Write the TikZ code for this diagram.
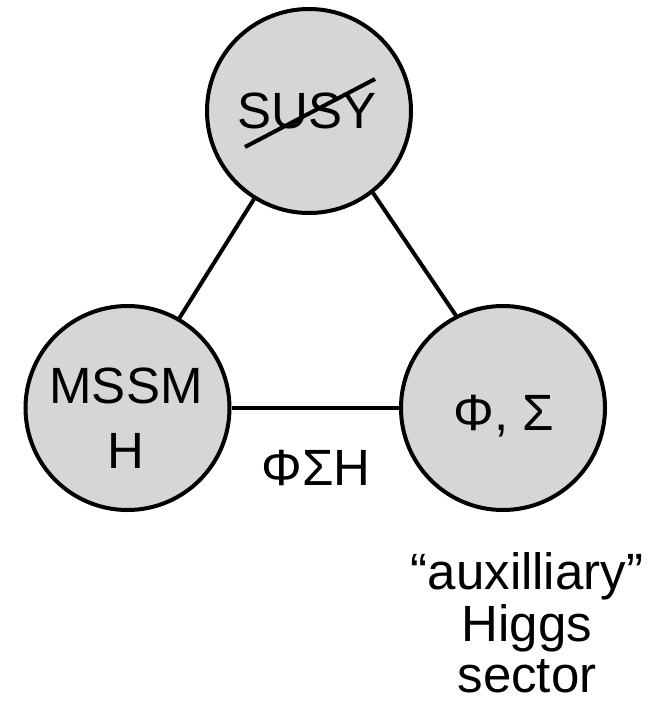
\documentclass[tikz,border=0pt]{standalone}
\usepackage{fontspec}
\setmainfont{Liberation Sans}
\begin{document}
\begin{tikzpicture}[x=1pt,y=-1pt,
  sector/.style={circle,draw=black,line width=4pt,fill=sectorgray,
    minimum size=204pt,inner sep=0pt},
  link/.style={line width=4pt},
  txt/.style={anchor=base,inner sep=0pt,font=\fontsize{51}{60}\selectfont}]
\definecolor{sectorgray}{HTML}{D6D6D6}
\useasboundingbox (0,0) rectangle (656,705);

% the three sectors
\node[sector] (susy) at (309,111) {};
\node[sector] (mssm) at (127.5,408) {};
\node[sector] (aux)  at (503,408) {};

% links between them, ending on the circle borders
\draw[link] (susy.238) -- (mssm.60);
\draw[link] (susy.-52) -- (aux.117);
\draw[link] (mssm.east) -- (aux.west);

% texts
\node[txt] (tsusy) at (307,128) {SUSY};
\draw[link] (245,147) -- (375,79);
\node[txt] (tmssm) at (126,403) {MSSM};
\node[txt] (th)    at (126,468) {H};
\node[txt] (tphi)  at (504,430) {Φ, Σ};
\node[txt] (tcoup) at (316,485) {ΦΣH};
\node[txt] (l1) at (527,589) {“auxilliary”};
\node[txt] (l2) at (527,641) {Higgs};
\node[txt] (l3) at (527,692) {sector};
\end{tikzpicture}
\end{document}
